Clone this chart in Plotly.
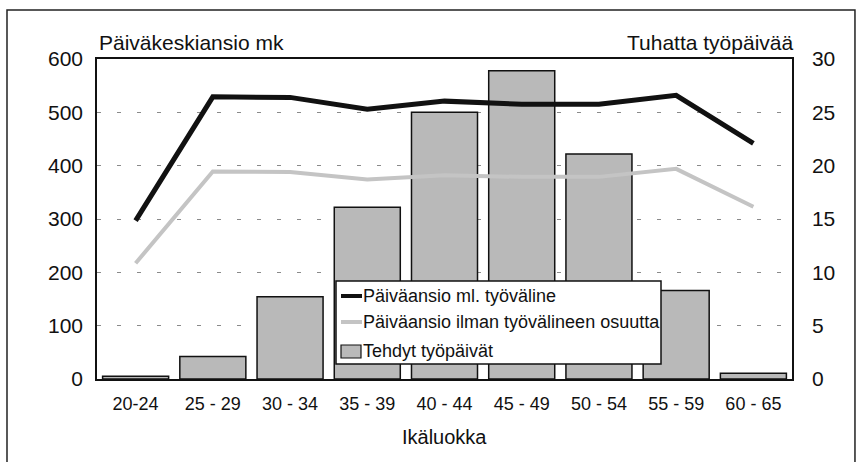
import plotly.graph_objects as go

categories = ["20-24", "25 - 29", "30 - 34", "35 - 39", "40 - 44", "45 - 49", "50 - 54", "55 - 59", "60 - 65"]
paivaansio_ml = [297, 529, 528, 506, 521, 515, 515, 532, 442]
paivaansio_ilman = [217, 389, 388, 374, 382, 379, 379, 394, 323]
tehdyt_tyopaivat = [0.25, 2.1, 7.7, 16.1, 25.0, 28.9, 21.1, 8.3, 0.55]

left_ticks = [0, 100, 200, 300, 400, 500, 600]
right_ticks = [0, 5, 10, 15, 20, 25, 30]

series_names = ["Päiväansio ml. työväline",
                "Päiväansio ilman työvälineen osuutta",
                "Tehdyt työpäivät"]

FONT = "Liberation Sans, Arial, Helvetica, sans-serif"
BLACK = "#111"
GRAY_LINE = "#c4c4c4"
BAR_FILL = "#b9b9b9"

# plot area geometry (px) for paper conversions of the hand-drawn legend box
L, R, T, B = 97, 792, 59, 379
def px(xp):
    return (xp - L) / (R - L)
def py(yp):
    return (B - yp) / (B - T)

fig = go.Figure()

fig.add_trace(go.Bar(
    x=categories, y=tehdyt_tyopaivat, name=series_names[2],
    marker=dict(color=BAR_FILL, line=dict(color=BLACK, width=1.5)),
    yaxis="y",
))
fig.add_trace(go.Scatter(
    x=categories, y=paivaansio_ml, name=series_names[0],
    mode="lines", line=dict(color=BLACK, width=5),
    yaxis="y2",
))
fig.add_trace(go.Scatter(
    x=categories, y=paivaansio_ilman, name=series_names[1],
    mode="lines", line=dict(color=GRAY_LINE, width=4),
    yaxis="y2",
))

# legend box drawn by hand
shapes = [
    dict(type="rect", xref="paper", yref="paper",
         x0=-0.1295, x1=1.0906, y0=-0.3, y1=1.153,
         line=dict(color="#222", width=1.5), fillcolor="rgba(0,0,0,0)", layer="below"),
    dict(type="rect", xref="paper", yref="paper",
         x0=px(336), x1=px(661), y0=py(364), y1=py(281),
         line=dict(color=BLACK, width=1.5), fillcolor="white", layer="above"),
    dict(type="line", xref="paper", yref="paper",
         x0=px(341), x1=px(362), y0=py(296), y1=py(296),
         line=dict(color=BLACK, width=4), layer="above"),
    dict(type="line", xref="paper", yref="paper",
         x0=px(341), x1=px(362), y0=py(322), y1=py(322),
         line=dict(color=GRAY_LINE, width=4), layer="above"),
    dict(type="rect", xref="paper", yref="paper",
         x0=px(341), x1=px(361), y0=py(358), y1=py(345),
         line=dict(color=BLACK, width=1.2), fillcolor=BAR_FILL, layer="above"),
]

legend_rows_y = [296, 322, 351]
annotations = [
    dict(text="Päiväkeskiansio mk", x=0, y=1.05, xref="paper", yref="paper",
         xanchor="left", yanchor="middle", showarrow=False,
         font=dict(size=21, family=FONT, color=BLACK)),
    dict(text="Tuhatta työpäivää", x=1.004, y=1.05, xref="paper", yref="paper",
         xanchor="right", yanchor="middle", showarrow=False,
         font=dict(size=21, family=FONT, color=BLACK)),
    dict(text="Ikäluokka", x=0.5, y=-0.181, xref="paper", yref="paper",
         xanchor="center", yanchor="middle", showarrow=False,
         font=dict(size=20, family=FONT, color=BLACK)),
]
for name, yr in zip(series_names, legend_rows_y):
    annotations.append(dict(
        text=name, x=px(362), y=py(yr), xref="paper", yref="paper",
        xanchor="left", yanchor="middle", showarrow=False, borderpad=0,
        font=dict(size=18, family=FONT, color=BLACK)))

fig.update_layout(
    width=860, height=462,
    margin=dict(l=L, r=860 - R, t=T, b=462 - B, autoexpand=False),
    paper_bgcolor="white", plot_bgcolor="white",
    font=dict(family=FONT, color=BLACK),
    bargap=0.145,
    showlegend=False,
    xaxis=dict(
        type="category", showline=True, linecolor=BLACK, linewidth=1.5,
        mirror=True, ticks="", tickfont=dict(size=18), ticklabelstandoff=8,
        showgrid=False, automargin=False,
    ),
    yaxis=dict(
        side="right", range=[0, 30], tickvals=right_ticks,
        ticktext=[str(v) for v in right_ticks],
        tickfont=dict(size=21), ticklabelstandoff=14,
        showline=True, linecolor=BLACK, linewidth=1.5,
        showgrid=True, gridcolor="#8a8a8a", griddash="4px,16px", gridwidth=1,
        zeroline=False, ticks="", automargin=False,
    ),
    yaxis2=dict(
        side="left", overlaying="y", range=[0, 600], tickvals=left_ticks,
        ticktext=[str(v) for v in left_ticks],
        tickfont=dict(size=21), ticklabelstandoff=8,
        showline=True, linecolor=BLACK, linewidth=1.5,
        showgrid=False, zeroline=False, ticks="", automargin=False,
    ),
    annotations=annotations,
    shapes=shapes,
)

fig.write_html("out.html", config={"displayModeBar": False},
               post_script="document.body.style.margin='0';")
